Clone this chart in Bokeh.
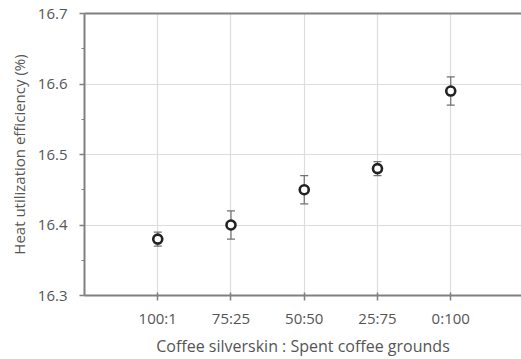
from bokeh.plotting import figure
from bokeh.models import ColumnDataSource, FixedTicker, LinearAxis, Whisker, TeeHead, Range1d
from bokeh.embed import file_html
from bokeh.resources import INLINE

categories = ["100:1", "75:25", "50:50", "25:75", "0:100"]
efficiency = [16.38, 16.40, 16.45, 16.48, 16.59]
errors = [0.01, 0.02, 0.02, 0.01, 0.02]
y_ticks = [16.3, 16.4, 16.5, 16.6, 16.7]

xs = list(range(1, len(categories) + 1))
src = ColumnDataSource(dict(
    x=xs, y=efficiency,
    lo=[v - e for v, e in zip(efficiency, errors)],
    hi=[v + e for v, e in zip(efficiency, errors)],
))

FONT = "Open Sans"
TXT = "#555555"
AX = "#808080"

p = figure(width=521, height=359, output_backend="svg", toolbar_location=None,
           x_range=Range1d(0, 5.966), y_range=Range1d(16.3, 16.7),
           min_border_left=84, min_border_right=0, min_border_top=13, min_border_bottom=62)
p.outline_line_color = None
p.background_fill_color = "white"

p.xaxis.ticker = FixedTicker(ticks=xs)
p.xaxis.major_label_overrides = {x: c for x, c in zip(xs, categories)}
p.yaxis.ticker = FixedTicker(ticks=y_ticks, minor_ticks=[16.35, 16.45, 16.55, 16.65])
p.yaxis.major_label_overrides = {t: f"{t:.1f}" for t in y_ticks}
p.xaxis.axis_label = "Coffee silverskin : Spent coffee grounds"
p.yaxis.axis_label = "Heat utilization efficiency (%)"

for ax in (p.xaxis[0], p.yaxis[0]):
    ax.axis_line_color = AX
    ax.axis_line_width = 2
    ax.major_tick_line_color = AX
    ax.major_tick_line_width = 1.5
    ax.major_tick_out = 5
    ax.major_tick_in = 0
    ax.major_label_text_font = FONT
    ax.major_label_text_font_size = "15px"
    ax.major_label_text_color = TXT
    ax.axis_label_text_font = FONT
    ax.axis_label_text_color = TXT
    ax.axis_label_text_font_style = "normal"
p.xaxis.axis_label_text_font_size = "16px"
p.yaxis.axis_label_text_font_size = "15px"
p.xaxis.minor_tick_line_color = None
p.xaxis.major_tick_in = 3
p.xaxis.major_label_standoff = 7
p.xaxis.axis_label_standoff = 4
p.yaxis.minor_tick_line_color = AX
p.yaxis.minor_tick_out = 3
p.yaxis.minor_tick_in = 0
p.yaxis.major_label_standoff = 12
p.yaxis.axis_label_standoff = 6

top = LinearAxis(ticker=FixedTicker(ticks=[]), axis_line_color=AX, axis_line_width=2,
                 major_label_text_font_size="0px", major_tick_line_color=None,
                 minor_tick_line_color=None)
p.add_layout(top, "above")

p.xgrid.grid_line_color = "#dddddd"
p.ygrid.grid_line_color = "#dddddd"
p.xgrid.grid_line_width = 1.2
p.ygrid.grid_line_width = 1.2

w = Whisker(source=src, base="x", lower="lo", upper="hi", line_color="#707070", line_width=1.2,
            upper_head=TeeHead(size=8, line_color="#707070", line_width=1.2),
            lower_head=TeeHead(size=8, line_color="#707070", line_width=1.2))
p.add_layout(w)

p.scatter("x", "y", source=src, size=9, fill_color="white", line_color="#222222", line_width=2.6)

open("out.html", "w").write(file_html(p, INLINE))
